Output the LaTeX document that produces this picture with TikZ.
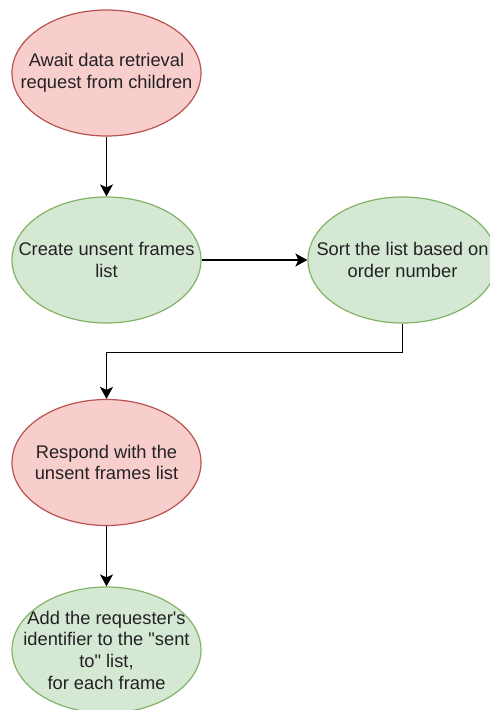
\documentclass[tikz,border=0pt]{standalone}
\usepackage{fontspec}
% no TeX ligature mapping, so ' and " stay straight
\setmainfont{Liberation Sans}[Ligatures=TeXOff]
\usetikzlibrary{shapes.geometric,arrows.meta}
\definecolor{redfill}{HTML}{F8CECC}
\definecolor{redline}{HTML}{B85450}
\definecolor{greenfill}{HTML}{D5E8D4}
\definecolor{greenline}{HTML}{82B366}
\definecolor{txt}{HTML}{222222}
\tikzset{
  oval/.style={ellipse, draw, line width=1.2pt, minimum width=189pt, minimum height=126pt, inner sep=0pt},
  redoval/.style={oval, fill=redfill, draw=redline},
  greenoval/.style={oval, fill=greenfill, draw=greenline},
  txtlabel/.style={align=center, text=txt, inner sep=0pt, font=\fontsize{18.3}{21.7}\selectfont},
  arr/.style={line width=1.5pt, -{Stealth[length=12pt, width=13pt, inset=3pt]}}
}
\begin{document}
\begin{tikzpicture}[x=1pt, y=-1pt]
  \useasboundingbox (0,0) rectangle (490,710);
  \clip (0,0) rectangle (490,710);
  \fill[white] (0,0) rectangle (490,710);

  \node[redoval, label={[txtlabel]center:Await data retrieval\\request from children}] (a) at (106.5,73) {};
  \node[greenoval, label={[txtlabel]center:Create unsent frames\\list}] (b) at (106.5,260) {};
  \node[greenoval, label={[txtlabel]center:Sort the list based on\\order number}] (c) at (402.5,260) {};
  \node[redoval, label={[txtlabel]center:Respond with the\\unsent frames list}] (d) at (106.5,462.5) {};
  \node[greenoval, label={[txtlabel]center:Add the requester's\\identifier to the "sent\\to" list,\\for each frame}] (e) at (106.5,650) {};

  \draw[arr] (a.south) -- (b.north);
  \draw[arr] (b.east) -- (c.west);
  \draw[arr] (c.south) -- ++(0,29) -| (d.north);
  \draw[arr] (d.south) -- (e.north);
\end{tikzpicture}
\end{document}
